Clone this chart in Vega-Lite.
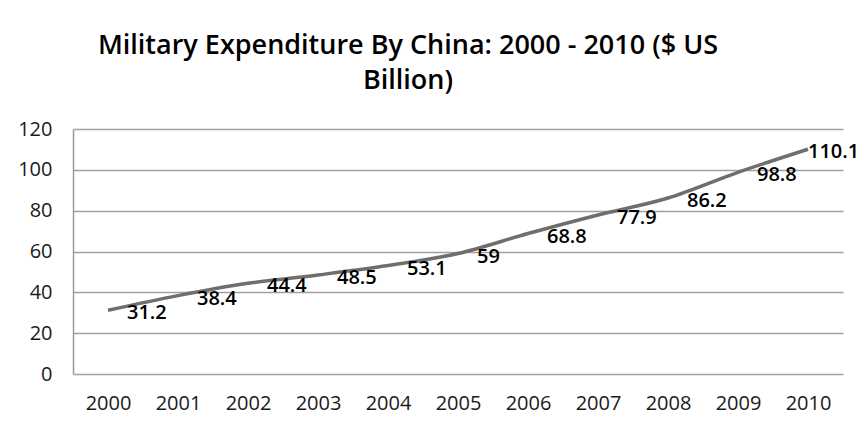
{
  "$schema": "https://vega.github.io/schema/vega-lite/v6.json",
  "width": 770,
  "height": 245,
  "autosize": "none",
  "padding": {"left": 73, "top": 129, "right": 24, "bottom": 52},
  "background": "white",
  "title": {
    "text": ["Military Expenditure By China: 2000 - 2010 ($ US", "Billion)"],
    "font": "Open Sans",
    "fontSize": 27,
    "fontWeight": 600,
    "color": "#000000",
    "lineHeight": 35,
    "anchor": "middle",
    "dx": -50,
    "offset": 24
  },
  "data": {
    "values": [
      {"year": "2000", "value": 31.2},
      {"year": "2001", "value": 38.4},
      {"year": "2002", "value": 44.4},
      {"year": "2003", "value": 48.5},
      {"year": "2004", "value": 53.1},
      {"year": "2005", "value": 59},
      {"year": "2006", "value": 68.8},
      {"year": "2007", "value": 77.9},
      {"year": "2008", "value": 86.2},
      {"year": "2009", "value": 98.8},
      {"year": "2010", "value": 110.1}
    ]
  },
  "encoding": {
    "x": {
      "field": "year", "type": "ordinal",
      "scale": {"type": "point", "padding": 0.5},
      "axis": {"title": null, "labelAngle": 0, "domain": false, "ticks": false, "grid": false,
               "labelFont": "Open Sans", "labelFontSize": 20, "labelColor": "#1a1a1a", "labelPadding": 19}
    },
    "y": {
      "field": "value", "type": "quantitative",
      "scale": {"domain": [0, 120], "nice": false},
      "axis": {"title": null, "values": [0, 20, 40, 60, 80, 100, 120], "ticks": false,
               "domainColor": "#9a9a9a", "domainWidth": 1.5, "gridColor": "#a0a0a0", "gridWidth": 1.5,
               "labelFont": "Open Sans", "labelFontSize": 20, "labelColor": "#1a1a1a", "labelPadding": 21}
    }
  },
  "layer": [
    {
      "mark": {"type": "line", "color": "#6e6e6e", "strokeWidth": 3.5, "interpolate": "monotone"}
    },
    {
      "transform": [{"filter": "datum.year != '2010'"}],
      "mark": {"type": "text", "align": "left", "baseline": "middle", "dx": 19, "dy": 3,
               "font": "Open Sans", "fontSize": 20, "fontWeight": 600, "color": "#000000"},
      "encoding": {"text": {"field": "value", "type": "quantitative"}}
    },
    {
      "transform": [{"filter": "datum.year == '2010'"}],
      "mark": {"type": "text", "align": "left", "baseline": "middle", "dx": 0, "dy": 3,
               "font": "Open Sans", "fontSize": 20, "fontWeight": 600, "color": "#000000"},
      "encoding": {"text": {"field": "value", "type": "quantitative"}}
    }
  ],
  "config": {"view": {"stroke": null}}
}
